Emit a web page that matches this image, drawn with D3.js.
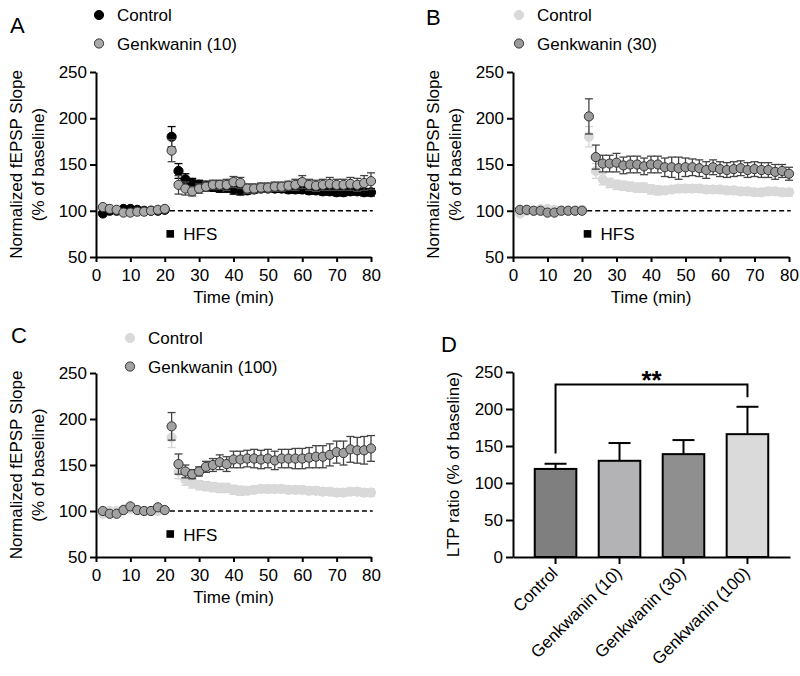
<!DOCTYPE html>
<html>
<head>
<meta charset="utf-8">
<script src="https://d3js.org/d3.v7.min.js"></script>
<style>
  body { margin: 0; background: #fff; }
  text { font-family: "Liberation Sans", Arial, Helvetica, sans-serif; }
</style>
</head>
<body>
<div id="my_dataviz"></div>

<script>

// time points (min), one every 2 min
var times = [2,4,6,8,10,12,14,16,18,20,22,24,26,28,30,32,34,36,38,40,
             42,44,46,48,50,52,54,56,58,60,62,64,66,68,70,72,74,76,78,80];

// normalized fEPSP slope (% of baseline), mean and SEM
var control    = [97,100,100,102,102,101,100,100,100,101,180,143,134,130,128,127,126,125,125,123,
                  122,122,123,124,124,124,124,123,123,123,122,122,121,121,120,120,121,121,120,120];
var controlErr = [2,1,1,1,1,1,1,1,1,1,11,8,6,5,5,5,5,5,5,5,
                  5,4,4,4,4,4,4,4,4,4,4,4,4,4,4,4,4,4,4,4];

var genk10     = [104,102,101,98,98,99,99,100,101,102,165,128,124,121,124,126,128,128,128,131,
                  130,124,124,125,125,126,126,127,128,131,128,127,128,129,128,128,129,128,130,132];
var genk10Err  = [1,1,1,1,1,1,1,1,1,1,12,10,7,5,5,5,5,5,6,6,
                  6,5,5,5,5,5,5,5,6,7,6,6,6,7,6,6,7,7,8,9];

var genk30     = [101,101,100,100,98,98,100,100,100,100,202,158,151,151,152,149,150,150,148,150,
                  150,147,147,146,147,147,146,144,147,145,144,145,146,144,145,144,144,142,143,140];
var genk30Err  = [1,1,1,1,1,1,1,1,1,1,19,13,9,9,10,9,9,9,9,9,
                  9,10,11,12,10,9,9,9,8,8,8,8,8,8,8,8,8,8,7,7];

var genk100    = [100,97,97,101,105,101,100,100,104,101,192,151,143,140,143,148,150,153,151,156,
                  156,157,157,156,157,155,157,157,157,157,158,159,159,161,164,163,167,166,166,168];
var genk100Err = [1,1,1,1,1,1,1,1,1,1,15,11,7,5,5,6,7,8,8,9,
                  9,9,10,10,10,10,10,10,11,11,11,12,12,12,12,13,14,14,15,14];

var timeTicks  = [0,10,20,30,40,50,60,70,80];
var slopeTicks = [50,100,150,200,250];

// panel D: LTP ratio
var ltpGroups = ["Control", "Genkwanin (10)", "Genkwanin (30)", "Genkwanin (100)"];
var ltpMean   = [119, 130, 139, 166];
var ltpSem    = [7, 24, 19, 37];
var ltpTicks  = [0, 50, 100, 150, 200, 250];

var svg = d3.select("#my_dataviz")
  .append("svg")
    .attr("width", 800)
    .attr("height", 676);

svg.append("rect").attr("width", 800).attr("height", 676).attr("fill", "#fff");

function styleAxis(ax) {
  ax.attr("font-size", 17).attr("font-family", "Liberation Sans, Arial, sans-serif");
  ax.select(".domain").attr("stroke", "#000").attr("stroke-width", 2);
  ax.selectAll(".tick line").attr("stroke", "#000").attr("stroke-width", 2);
  ax.selectAll(".tick text").attr("fill", "#000");
}

function panelLetter(letter, x, y) {
  svg.append("text").attr("x", x).attr("y", y)
    .attr("font-size", 22).text(letter);
}

// time course panel (A, B, C)
function timePanel(p) {
  var x = d3.scaleLinear().domain([0, 80]).range([p.left, p.right]);
  var y = d3.scaleLinear().domain([50, 250]).range([p.bottom, p.top]);
  var g = svg.append("g");

  var xa = g.append("g")
    .attr("transform", "translate(0," + p.bottom + ")")
    .call(d3.axisBottom(x).tickValues(timeTicks).tickSize(5).tickSizeOuter(0).tickPadding(7));
  styleAxis(xa);

  var ya = g.append("g")
    .attr("transform", "translate(" + p.left + ",0)")
    .call(d3.axisLeft(y).tickValues(slopeTicks).tickSize(6).tickSizeOuter(0).tickPadding(3));
  styleAxis(ya);

  // axis titles
  g.append("text")
    .attr("x", (p.left + p.right) / 2).attr("y", p.bottom + 46)
    .attr("text-anchor", "middle").attr("font-size", 17)
    .text("Time (min)");
  var cy = (p.top + p.bottom) / 2;
  g.append("text")
    .attr("transform", "translate(" + (p.left - 80) + "," + cy + ") rotate(-90)")
    .attr("text-anchor", "middle").attr("dy", "0.35em").attr("font-size", 17)
    .text("Normalized fEPSP Slope");
  g.append("text")
    .attr("transform", "translate(" + (p.left - 58) + "," + cy + ") rotate(-90)")
    .attr("text-anchor", "middle").attr("dy", "0.35em").attr("font-size", 17)
    .text("(% of baseline)");

  // baseline dashed line
  g.append("line")
    .attr("x1", x(21.5)).attr("x2", x(80.5))
    .attr("y1", y(100)).attr("y2", y(100))
    .attr("stroke", "#000").attr("stroke-width", 1.6)
    .attr("stroke-dasharray", "5,3");

  // HFS marker
  g.append("rect")
    .attr("x", x(21.6) - 3.8).attr("y", y(75) - 3.8)
    .attr("width", 7.6).attr("height", 7.6).attr("fill", "#000");
  g.append("text")
    .attr("x", x(21.6) + 13).attr("y", y(75) + 6.5)
    .attr("font-size", 17).text("HFS");

  // series
  p.series.forEach(function (s) {
    var pts = times.map(function (t, i) { return {t: t, v: s.values[i], e: s.err[i]}; });
    var eb = g.append("g").attr("stroke", s.errColor).attr("stroke-width", 1.3);
    pts.forEach(function (d) {
      if (d.e < 3) return;
      var cx = x(d.t);
      eb.append("line").attr("x1", cx).attr("x2", cx).attr("y1", y(d.v - d.e)).attr("y2", y(d.v + d.e));
      eb.append("line").attr("x1", cx - 4).attr("x2", cx + 4).attr("y1", y(d.v + d.e)).attr("y2", y(d.v + d.e));
      eb.append("line").attr("x1", cx - 4).attr("x2", cx + 4).attr("y1", y(d.v - d.e)).attr("y2", y(d.v - d.e));
    });
    g.append("g").selectAll("circle")
      .data(pts).enter()
      .append("circle")
        .attr("cx", function (d) { return x(d.t); })
        .attr("cy", function (d) { return y(d.v); })
        .attr("r", 4.6)
        .attr("fill", s.fill)
        .attr("stroke", s.stroke)
        .attr("stroke-width", 1);
  });

  // legend
  p.series.forEach(function (s, i) {
    var ly = p.legendY + i * 28.5;
    g.append("circle").attr("cx", p.legendX).attr("cy", ly).attr("r", 4.6)
      .attr("fill", s.fill).attr("stroke", s.stroke).attr("stroke-width", 1);
    g.append("text").attr("x", p.legendX + 18).attr("y", ly + 6)
      .attr("font-size", 17).text(s.name);
  });
}

var darkControl  = {name: "Control", values: control, err: controlErr, fill: "#000", stroke: "#000", errColor: "#000"};
var lightControl = {name: "Control", values: control, err: controlErr, fill: "#d9d9d9", stroke: "#d9d9d9", errColor: "#d4d4d4"};

timePanel({left: 96, right: 371, top: 72, bottom: 257, legendX: 99, legendY: 15,
  series: [darkControl,
           {name: "Genkwanin (10)", values: genk10, err: genk10Err, fill: "#a9a9a9", stroke: "#333", errColor: "#444"}]});
timePanel({left: 513, right: 789, top: 72, bottom: 257, legendX: 519, legendY: 15,
  series: [lightControl,
           {name: "Genkwanin (30)", values: genk30, err: genk30Err, fill: "#9a9a9a", stroke: "#333", errColor: "#444"}]});
timePanel({left: 96, right: 371, top: 373, bottom: 557, legendX: 130, legendY: 338,
  series: [lightControl,
           {name: "Genkwanin (100)", values: genk100, err: genk100Err, fill: "#a2a2a2", stroke: "#333", errColor: "#444"}]});

panelLetter("A", 10, 33);
panelLetter("B", 426, 25);
panelLetter("C", 11, 343);
panelLetter("D", 441, 352);

// panel D: bar chart
(function () {
  var left = 513, right = 790, top = 372, bottom = 557;
  var barColors = ["#7f7f7f", "#b3b3b5", "#8f8f8f", "#dadada"];
  var x = d3.scaleBand().domain(ltpGroups).range([left, right]).paddingInner(0.35).paddingOuter(0.34);
  var y = d3.scaleLinear().domain([0, 250]).range([bottom, top]);
  var g = svg.append("g");

  // error bars (upper only)
  ltpGroups.forEach(function (c, i) {
    var cx = x(c) + x.bandwidth() / 2;
    g.append("line").attr("x1", cx).attr("x2", cx)
      .attr("y1", y(ltpMean[i])).attr("y2", y(ltpMean[i] + ltpSem[i]))
      .attr("stroke", "#000").attr("stroke-width", 2);
    g.append("line").attr("x1", cx - 11).attr("x2", cx + 11)
      .attr("y1", y(ltpMean[i] + ltpSem[i])).attr("y2", y(ltpMean[i] + ltpSem[i]))
      .attr("stroke", "#000").attr("stroke-width", 2);
  });

  g.selectAll("rect.bar")
    .data(ltpGroups).enter()
    .append("rect")
      .attr("class", "bar")
      .attr("x", function (d) { return x(d); })
      .attr("y", function (d, i) { return y(ltpMean[i]); })
      .attr("width", x.bandwidth())
      .attr("height", function (d, i) { return bottom - y(ltpMean[i]); })
      .attr("fill", function (d, i) { return barColors[i]; })
      .attr("stroke", "#000").attr("stroke-width", 2);

  var xa = g.append("g")
    .attr("transform", "translate(0," + bottom + ")")
    .call(d3.axisBottom(x).tickSize(7).tickSizeOuter(0));
  styleAxis(xa);
  xa.selectAll(".tick text")
    .attr("text-anchor", "end")
    .attr("transform", "translate(-1,13) rotate(-45)")
    .attr("y", 0).attr("x", 0)
    .attr("dy", "0.35em");

  var ya = g.append("g")
    .attr("transform", "translate(" + left + ",0)")
    .call(d3.axisLeft(y).tickValues(ltpTicks).tickSize(7).tickSizeOuter(0).tickPadding(3));
  styleAxis(ya);

  g.append("text")
    .attr("transform", "translate(" + (left - 60) + "," + ((top + bottom) / 2) + ") rotate(-90)")
    .attr("text-anchor", "middle").attr("dy", "0.35em").attr("font-size", 17)
    .text("LTP ratio (% of baseline)");

  // significance bracket: Control vs Genkwanin (100)
  var x1 = x(ltpGroups[0]) + x.bandwidth() / 2;
  var x2 = x(ltpGroups[3]) + x.bandwidth() / 2;
  g.append("path")
    .attr("d", "M" + x1 + "," + y(140) + "V" + y(233) + "H" + x2 + "V" + y(216))
    .attr("fill", "none").attr("stroke", "#000").attr("stroke-width", 2);
  g.append("text")
    .attr("x", (x1 + x2) / 2).attr("y", y(233) + 4)
    .attr("text-anchor", "middle").attr("font-size", 26).attr("font-weight", "bold")
    .text("**");
})();

</script>
</body>
</html>
